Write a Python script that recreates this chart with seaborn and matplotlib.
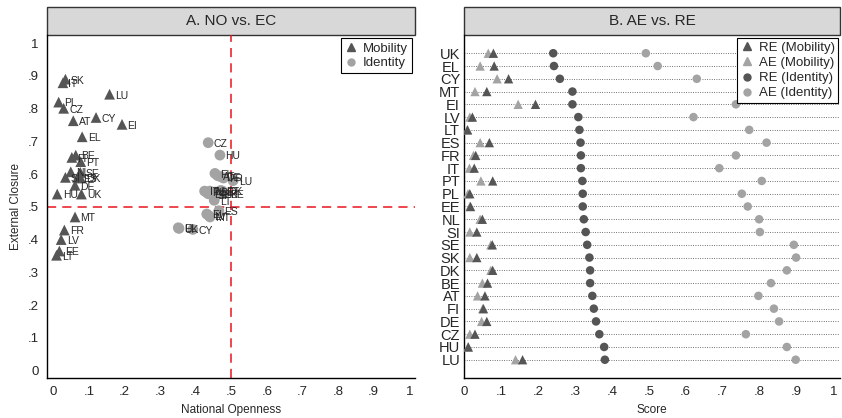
import numpy as np
import pandas as pd
import matplotlib
matplotlib.use('Agg')
import matplotlib.pyplot as plt
import seaborn as sns
from matplotlib.patches import Rectangle
from matplotlib.lines import Line2D

countries = ['UK', 'EL', 'CY', 'MT', 'EI', 'LV', 'LT', 'ES', 'FR', 'IT', 'PT', 'PL', 'EE',
             'NL', 'SI', 'SE', 'SK', 'DK', 'BE', 'AT', 'FI', 'DE', 'CZ', 'HU', 'LU']

# panel B scores
re_mob = [0.079, 0.081, 0.120, 0.061, 0.193, 0.022, 0.009, 0.068, 0.031, 0.027, 0.077, 0.015, 0.017,
          0.049, 0.034, 0.076, 0.034, 0.077, 0.063, 0.056, 0.052, 0.061, 0.029, 0.011, 0.158]
ae_mob = [0.065, 0.043, 0.089, 0.029, 0.146, 0.015, 0.008, 0.043, 0.025, 0.014, 0.045, 0.010, 0.015,
          0.043, 0.015, 0.072, 0.015, 0.072, 0.049, 0.036, 0.050, 0.047, 0.015, 0.010, 0.139]
re_id = [0.241, 0.243, 0.259, 0.293, 0.293, 0.309, 0.312, 0.315, 0.316, 0.316, 0.320, 0.321, 0.321,
         0.324, 0.329, 0.333, 0.339, 0.341, 0.341, 0.347, 0.351, 0.357, 0.366, 0.379, 0.381]
ae_id = [0.492, 0.524, 0.630, 0.860, 0.736, 0.621, 0.772, 0.819, 0.736, 0.691, 0.806, 0.752, 0.768,
         0.799, 0.801, 0.893, 0.899, 0.874, 0.831, 0.797, 0.839, 0.853, 0.763, 0.874, 0.898]

# panel A: national openness / external closure
no_mob = [0.079, 0.081, 0.120, 0.061, 0.193, 0.022, 0.009, 0.068, 0.031, 0.027, 0.077, 0.015, 0.017,
          0.049, 0.034, 0.076, 0.034, 0.077, 0.063, 0.056, 0.052, 0.061, 0.029, 0.011, 0.158]
ec_mob = [0.539, 0.714, 0.773, 0.469, 0.752, 0.400, 0.352, 0.590, 0.429, 0.879, 0.638, 0.820, 0.365,
          0.607, 0.590, 0.605, 0.890, 0.588, 0.658, 0.763, 0.651, 0.566, 0.801, 0.539, 0.844]
no_id = [0.353, 0.351, 0.392, 0.440, 0.431, 0.436, 0.452, 0.465, 0.478, 0.425, 0.470, 0.430, 0.435,
         0.440, 0.445, 0.455, 0.465, 0.475, 0.480, 0.462, 0.454, 0.470, 0.435, 0.468, 0.505]
ec_id = [0.434, 0.436, 0.431, 0.469, 0.478, 0.474, 0.520, 0.488, 0.588, 0.548, 0.550, 0.545, 0.540,
         0.548, 0.537, 0.545, 0.540, 0.548, 0.540, 0.595, 0.602, 0.592, 0.696, 0.658, 0.580]

dark = '#555555'
light = '#a3a3a3'

sns.set_style('white')
plt.rcParams['font.family'] = ['Liberation Sans', 'DejaVu Sans']

fig = plt.figure(figsize=(8.42, 4.18), dpi=100)
ax1 = fig.add_axes([0.0555, 0.0957, 0.4374, 0.8206])
ax2 = fig.add_axes([0.5514, 0.0957, 0.4462, 0.8206])

# ---------------- panel A
dfa = pd.DataFrame({
    'NO': no_mob + no_id,
    'EC': ec_mob + ec_id,
    'type': ['Mobility'] * len(countries) + ['Identity'] * len(countries),
    'country': countries + countries,
})
sns.scatterplot(data=dfa, x='NO', y='EC', hue='type', style='type',
                markers={'Mobility': '^', 'Identity': 'o'},
                palette={'Mobility': dark, 'Identity': light},
                s=60, edgecolor='none', legend=False, ax=ax1, zorder=3)
for _, r in dfa.iterrows():
    ax1.annotate(r['country'], (r['NO'], r['EC']), xytext=(4, -1), textcoords='offset points',
                 fontsize=7.5, va='center', ha='left', zorder=4)
ax1.axvline(0.5, color='#e8141c', ls=(0, (6, 4)), lw=1.1, zorder=2)
ax1.axhline(0.5, color='#e8141c', ls=(0, (6, 4)), lw=1.1, zorder=2)
ticks = np.arange(0, 1.01, 0.1)
ticklabels = ['0', '.1', '.2', '.3', '.4', '.5', '.6', '.7', '.8', '.9', '1']
ax1.set_xticks(ticks)
ax1.set_xticklabels(ticklabels)
ax1.set_yticks(ticks)
ax1.set_yticklabels(ticklabels)
ax1.set_xlim(-0.0185, 1.016)
ax1.set_ylim(-0.023, 1.025)
ax1.set_xlabel('National Openness', fontsize=8.5)
ax1.set_ylabel('External Closure', fontsize=8.5)
leg1 = ax1.legend(handles=[
    Line2D([], [], marker='^', color=dark, ls='none', markersize=6),
    Line2D([], [], marker='o', color=light, ls='none', markersize=5)],
    labels=['Mobility', 'Identity'], loc='upper right', bbox_to_anchor=(0.992, 0.99),
    frameon=True, fancybox=False, fontsize=9.5, handletextpad=0.4, borderpad=0.3,
    labelspacing=0.2, handlelength=1.0, borderaxespad=0, framealpha=1)
leg1.get_frame().set_edgecolor('black')
leg1.get_frame().set_linewidth(0.8)

# ---------------- panel B
ypos = np.arange(len(countries))
for y in ypos:
    ax2.axhline(y, color='#444444', ls=(0, (1, 1.8)), lw=0.6, zorder=1)
dfb = pd.DataFrame({'country': countries, 're_mob': re_mob, 'ae_mob': ae_mob,
                    're_id': re_id, 'ae_id': ae_id})
sns.scatterplot(data=dfb, x='ae_mob', y='country', marker='^', color=light, s=45,
                edgecolor='none', ax=ax2, zorder=3)
sns.scatterplot(data=dfb, x='re_mob', y='country', marker='^', color=dark, s=45,
                edgecolor='none', ax=ax2, zorder=4)
sns.scatterplot(data=dfb, x='re_id', y='country', marker='o', color=dark, s=38,
                edgecolor='none', ax=ax2, zorder=3)
sns.scatterplot(data=dfb, x='ae_id', y='country', marker='o', color=light, s=38,
                edgecolor='none', ax=ax2, zorder=3)
ax2.set_xticks(ticks)
ax2.set_xticklabels(ticklabels)
ax2.set_xlim(0, 1.018)
ax2.set_ylim(len(countries) - 1 + 1.43, -1.43)
ax2.set_yticks(ypos)
ax2.set_yticklabels(countries, fontsize=10.5)
ax2.tick_params(axis='y', length=0, pad=3)
ax2.set_xlabel('Score', fontsize=8.5)
ax2.set_ylabel('')
leg2 = ax2.legend(handles=[
    Line2D([], [], marker='^', color=dark, ls='none', markersize=5.5),
    Line2D([], [], marker='^', color=light, ls='none', markersize=5.5),
    Line2D([], [], marker='o', color=dark, ls='none', markersize=5),
    Line2D([], [], marker='o', color=light, ls='none', markersize=5)],
    labels=['RE (Mobility)', 'AE (Mobility)', 'RE (Identity)', 'AE (Identity)'],
    loc='upper right', bbox_to_anchor=(0.995, 0.99), frameon=True, fancybox=False,
    fontsize=9.5, handletextpad=0.4, borderpad=0.25, labelspacing=0.22,
    handlelength=1.0, borderaxespad=0, framealpha=1)
leg2.get_frame().set_edgecolor('black')
leg2.get_frame().set_linewidth(0.8)

for ax, title in [(ax1, 'A. NO vs. EC'), (ax2, 'B. AE vs. RE')]:
    sns.despine(ax=ax)
    for sp in ['left', 'bottom']:
        ax.spines[sp].set_color('black')
        ax.spines[sp].set_linewidth(1.0)
    ax.tick_params(axis='x', direction='out', length=4, width=0.8, color='black', labelsize=9.5, pad=2)
    if ax is ax1:
        ax.tick_params(axis='y', direction='out', length=4, width=0.8, color='black', labelsize=9.5, pad=2)
    band = Rectangle((0, 1.0), 1.0, 0.0816, transform=ax.transAxes, clip_on=False,
                     facecolor='#d8d8d8', edgecolor='#333333', lw=1.0)
    ax.add_patch(band)
    ax.text(0.5, 1.0408, title, transform=ax.transAxes, ha='center', va='center', fontsize=11)

fig.savefig('out.png', dpi=100)
